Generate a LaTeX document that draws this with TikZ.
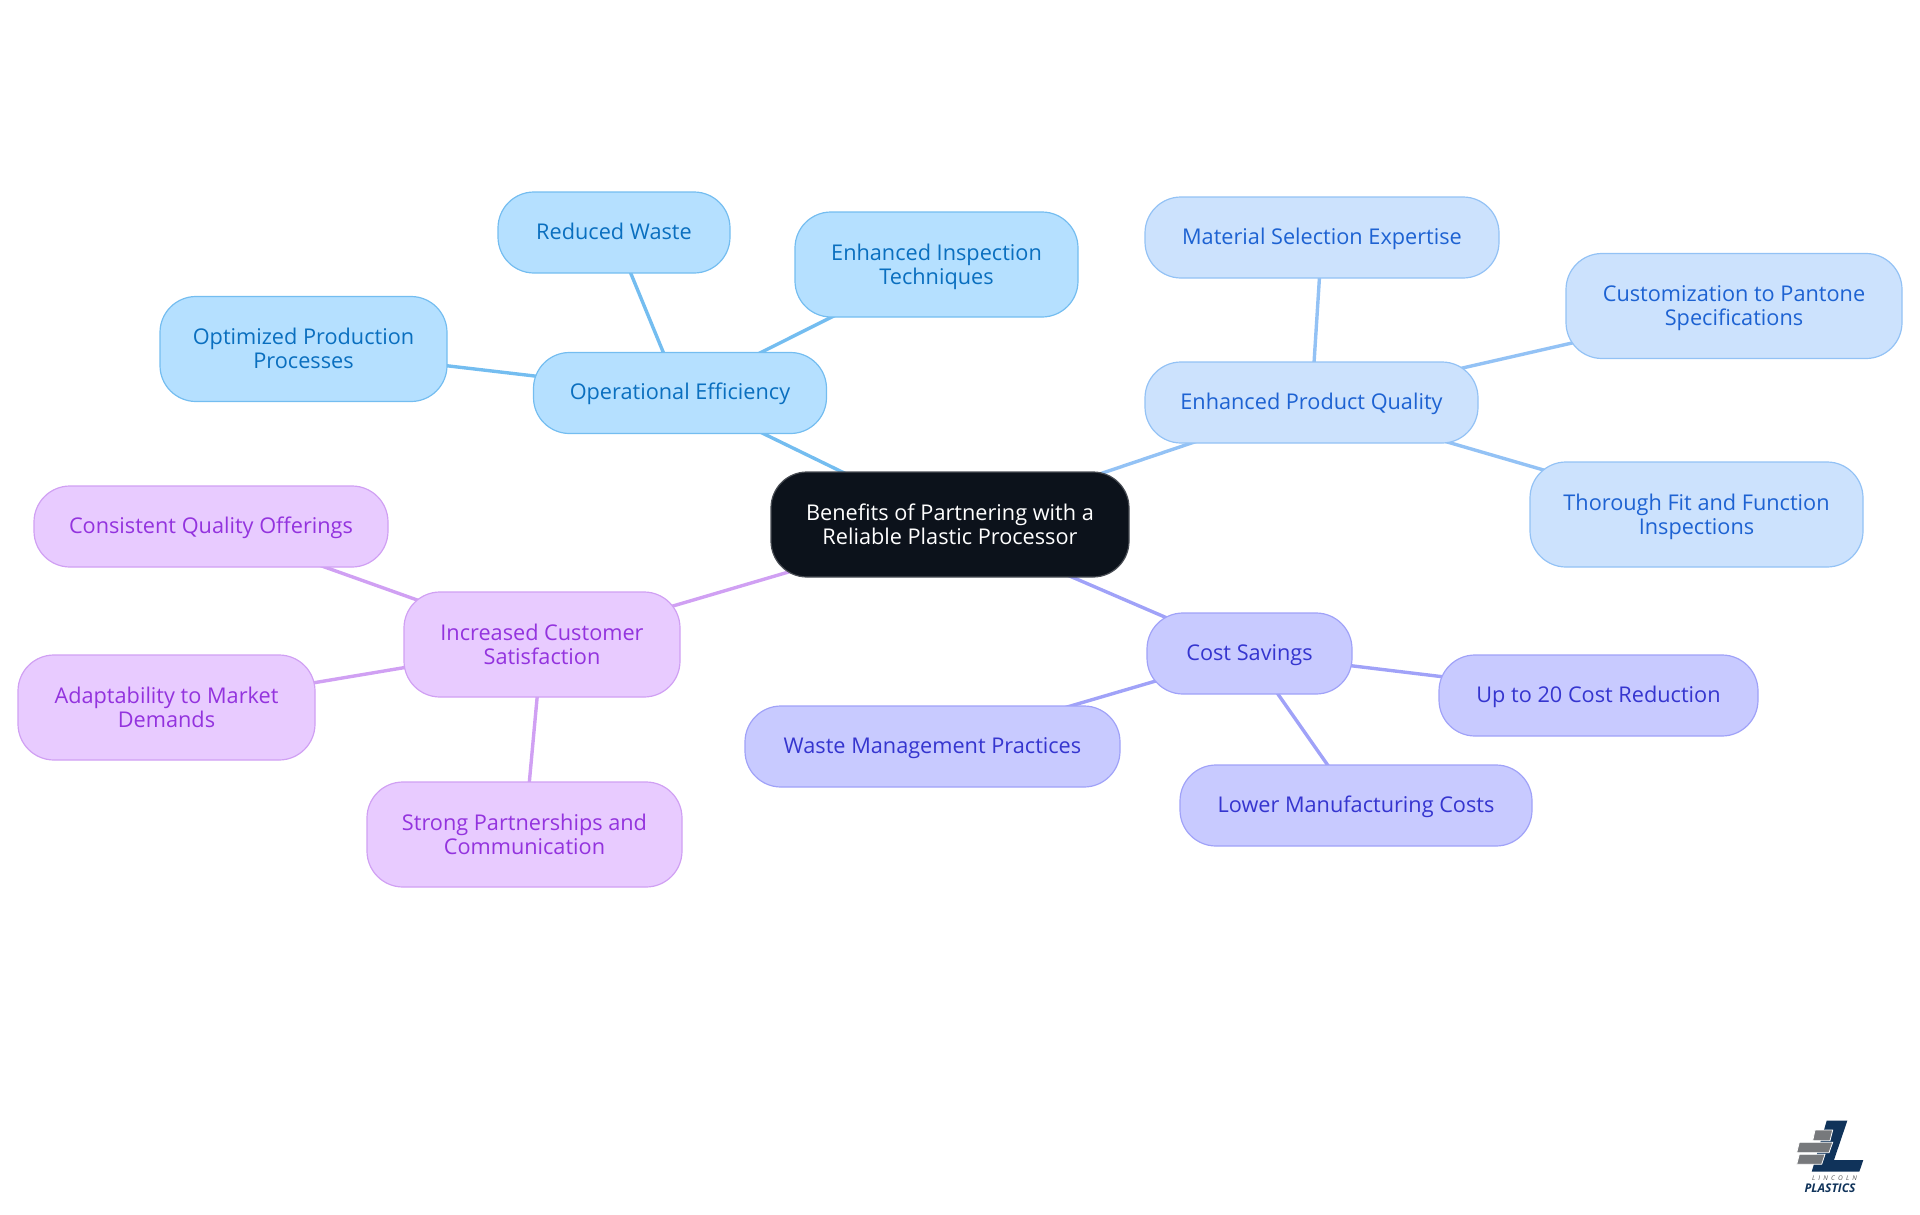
\documentclass[tikz,border=0pt]{standalone}
\usepackage{fontspec}
\setmainfont{Open Sans}
\usetikzlibrary{backgrounds}

\definecolor{skyfill}{HTML}{B5E0FF}
\definecolor{skyline}{HTML}{74BDF0}
\definecolor{skytext}{HTML}{0A6FBF}
\definecolor{bluefill}{HTML}{CCE2FD}
\definecolor{blueline}{HTML}{93C2F5}
\definecolor{bluetext}{HTML}{1D62D2}
\definecolor{indfill}{HTML}{C8CAFF}
\definecolor{indline}{HTML}{A0A2F8}
\definecolor{indtext}{HTML}{3535CF}
\definecolor{purfill}{HTML}{E8CBFF}
\definecolor{purline}{HTML}{D0A0F3}
\definecolor{purtext}{HTML}{9333DE}
\definecolor{hubfill}{HTML}{0C121B}
\definecolor{logonavy}{HTML}{10335A}
\definecolor{logogrey}{HTML}{77797C}

\tikzset{
  mapbox/.style={rounded corners=36pt, inner sep=0pt, outer sep=0pt, align=center, line width=1.2pt,
    font=\fontsize{21.7}{24}\selectfont, execute at begin node=\rule{0pt}{19.5pt}, execute at end node=\rule[-6pt]{0pt}{6pt}},
  tworow/.style={minimum height=105pt, execute at begin node=\rule{0pt}{45pt}},
  hubbox/.style={mapbox, draw=hubfill!75!white, fill=hubfill, text=white},
  skybox/.style={mapbox, draw=skyline, fill=skyfill, text=skytext},
  bluebox/.style={mapbox, draw=blueline, fill=bluefill, text=bluetext},
  indbox/.style={mapbox, draw=indline, fill=indfill, text=indtext},
  purbox/.style={mapbox, draw=purline, fill=purfill, text=purtext},
  skyedge/.style={draw=skyline, line width=3.4pt},
  blueedge/.style={draw=blueline, line width=3.4pt},
  indedge/.style={draw=indline, line width=3.4pt},
  puredge/.style={draw=purline, line width=3.4pt},
  logobar/.style={fill=logogrey, draw=white, line width=0.8pt}
}

\begin{document}
\begin{tikzpicture}[x=1pt,y=-1pt]
  \useasboundingbox (0,0) rectangle (1920,1215);

  % Central node
  \node[hubbox, tworow, minimum width=358pt] (hub) at (950,524.5)
    {Benefits of Partnering with a\\Reliable Plastic Processor};

  % Operational efficiency branch
  \node[skybox, minimum width=293pt, minimum height=81pt] (opeff) at (680,393) {Operational Efficiency};
  \node[skybox, minimum width=232pt, minimum height=81pt] (waste) at (614,232.5) {Reduced Waste};
  \node[skybox, tworow, minimum width=283pt] (inspect) at (936.5,264.5) {Enhanced Inspection\\Techniques};
  \node[skybox, tworow, minimum width=287pt] (optim) at (303.5,349) {Optimized Production\\Processes};

  % Product quality branch
  \node[bluebox, minimum width=333pt, minimum height=81pt] (quality) at (1311.5,402.5) {Enhanced Product Quality};
  \node[bluebox, minimum width=354pt, minimum height=81pt] (material) at (1322,237.5) {Material Selection Expertise};
  \node[bluebox, tworow, minimum width=336pt] (pantone) at (1734,306) {Customization to Pantone\\Specifications};
  \node[bluebox, tworow, minimum width=333pt] (fitcheck) at (1696.5,514.5) {Thorough Fit and Function\\Inspections};

  % Cost savings branch
  \node[indbox, minimum width=205pt, minimum height=81pt] (cost) at (1249.5,653.5) {Cost Savings};
  \node[indbox, minimum width=319pt, minimum height=81pt] (reduction) at (1598.5,695.5) {Up to 20 Cost Reduction};
  \node[indbox, minimum width=352pt, minimum height=81pt] (lower) at (1356,805.5) {Lower Manufacturing Costs};
  \node[indbox, minimum width=375pt, minimum height=81pt] (wastemgmt) at (932.5,746.5) {Waste Management Practices};

  % Customer satisfaction branch
  \node[purbox, tworow, minimum width=276pt] (satisf) at (542,644.5) {Increased Customer\\Satisfaction};
  \node[purbox, minimum width=354pt, minimum height=81pt] (consist) at (211,526.5) {Consistent Quality Offerings};
  \node[purbox, tworow, minimum width=297pt] (adapt) at (166.5,707.5) {Adaptability to Market\\Demands};
  \node[purbox, tworow, minimum width=315pt] (partner) at (524.5,834.5) {Strong Partnerships and\\Communication};

  % Connectors run behind the boxes
  \begin{scope}[on background layer]
    \foreach \from/\to in {hub/opeff, opeff/waste, opeff/inspect, opeff/optim}
      \draw[skyedge] (\from.center) -- (\to.center);
    \foreach \from/\to in {hub/quality, quality/material, quality/pantone, quality/fitcheck}
      \draw[blueedge] (\from.center) -- (\to.center);
    \foreach \from/\to in {hub/cost, cost/reduction, cost/lower, cost/wastemgmt}
      \draw[indedge] (\from.center) -- (\to.center);
    \foreach \from/\to in {hub/satisf, satisf/consist, satisf/adapt, satisf/partner}
      \draw[puredge] (\from.center) -- (\to.center);
  \end{scope}

  % Logo bottom right
  \fill[logonavy] (1826.7,1120.7) -- (1847.3,1120.7) -- (1834,1160) -- (1863.3,1160) -- (1859.3,1171.7) -- (1811.7,1171.7) -- cycle;
  \draw[logobar] (1815,1130) -- (1832.7,1130) -- (1830,1140.7) -- (1812.7,1140.7) -- cycle;
  \draw[logobar] (1799.3,1142.3) -- (1832.7,1142.3) -- (1829,1152.7) -- (1796.7,1152.7) -- cycle;
  \draw[logobar] (1799.3,1154.3) -- (1825,1154.3) -- (1821.7,1164.3) -- (1796.7,1164.3) -- cycle;
  \node[inner sep=0pt, text=logogrey!70!black, font=\itshape\fontsize{6.5}{7}\selectfont] (logotop) at (1834.5,1178.5) {L\hspace{3.2pt}I\hspace{3.2pt}N\hspace{3.2pt}C\hspace{3.2pt}O\hspace{3.2pt}L\hspace{3.2pt}N};
  \node[inner sep=0pt, text=logonavy, font=\bfseries\itshape\fontsize{12}{12}\selectfont] (logoname) at (1830,1188.5) {PLASTICS};
\end{tikzpicture}
\end{document}
